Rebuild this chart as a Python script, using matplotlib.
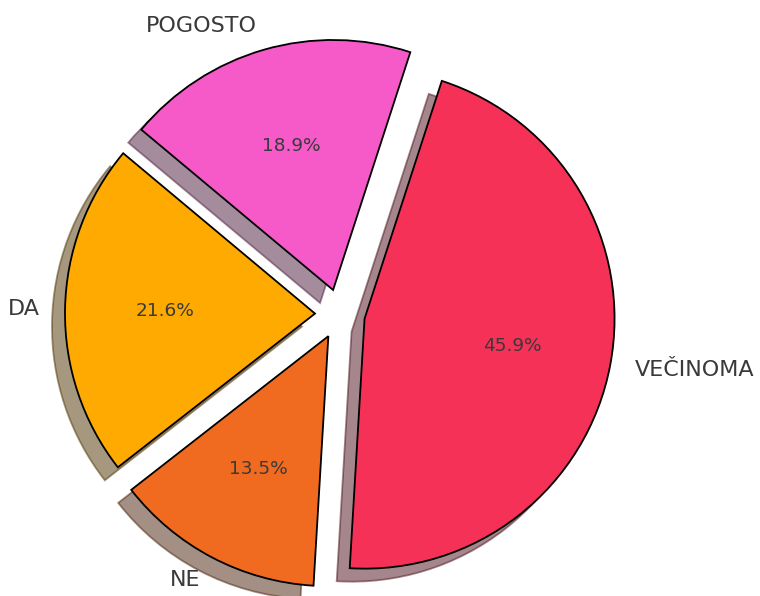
import matplotlib.pyplot as plt

# podatki
oznake = ['VEČINOMA', 'NE', 'DA', 'POGOSTO']
stevila = [17, 5, 8, 7]
barve = ['#F53158', '#F06A20', '#FFAA00', '#F55AC8']
odmik = [0.1, 0.1, 0.1, 0.1]

fig = plt.figure(figsize=(7.6, 5.96), dpi=100)
ax = fig.add_axes([0, 0, 1, 1])

wedges, texts, autotexts = ax.pie(
    stevila, labels=oznake, colors=barve, explode=odmik,
    autopct='%1.1f%%', startangle=72, counterclock=False,
    shadow={'ox': -0.0375, 'oy': -0.0375},
    wedgeprops={'edgecolor': 'black', 'linewidth': 1.3},
    textprops={'color': '#3a3a3a'})

for t in texts:
    t.set_fontsize(16)
for t in autotexts:
    t.set_fontsize(13.3)

# sredisce pri (340, 314) px, polmer 250 px
ax.set_xlim(-340 / 250, (760 - 340) / 250)
ax.set_ylim(-(596 - 314) / 250, 314 / 250)
ax.set_aspect('equal')
ax.axis('off')

fig.savefig('out.png', dpi=100)
